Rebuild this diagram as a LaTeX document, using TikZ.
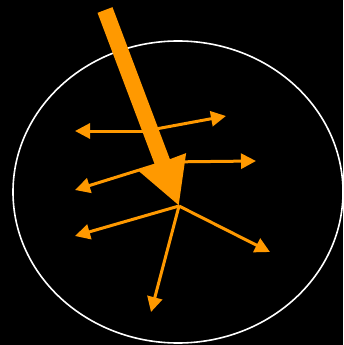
\documentclass[tikz,border=0pt]{standalone}
\usetikzlibrary{arrows.meta}
\definecolor{amber}{RGB}{255,153,0}
\begin{document}
\begin{tikzpicture}[x=1pt,y=-1pt,
  ray/.style={draw=amber, line width=3pt, -{Triangle[length=15pt,width=15pt]}}]
\fill[black] (0,0) rectangle (343,345);
\draw[white, line width=1.6pt] (178,192) ellipse [x radius=165pt, y radius=151pt];
\coordinate (top) at (105,10);
\coordinate (hit) at (179,206);
\coordinate (a) at (145,131);
\coordinate (b) at (165,162);
\coordinate (a1) at (75,131);
\coordinate (a2) at (226,116);
\coordinate (b1) at (75,190);
\coordinate (b2) at (256,161);
\coordinate (c1) at (75,236);
\coordinate (c2) at (270,252);
\coordinate (c3) at (151,312);
\draw[ray] (a) -- (a1);
\draw[ray] (a) -- (a2);
\draw[ray] (b) -- (b1);
\draw[ray] (b) -- (b2);
\draw[ray] (hit) -- (c1);
\draw[ray] (hit) -- (c2);
\draw[ray] (hit) -- (c3);
\draw[amber, line width=16pt, -{Triangle[length=47pt,width=47pt]}] (top) -- (hit);
\end{tikzpicture}
\end{document}
